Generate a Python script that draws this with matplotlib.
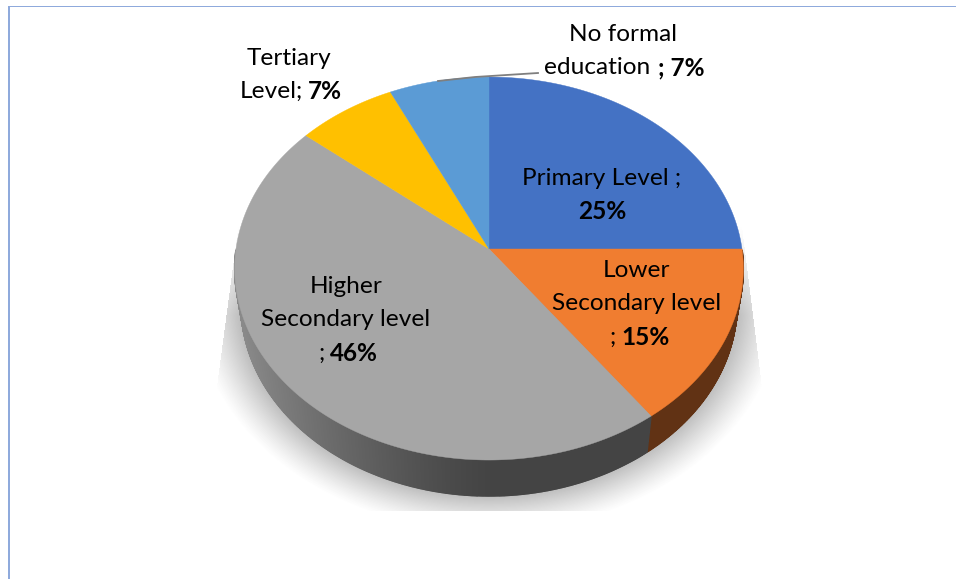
import matplotlib
matplotlib.use('Agg')
import matplotlib.pyplot as plt
from matplotlib.patches import Polygon, Rectangle
import numpy as np

# chart values, clockwise from 12 o'clock
categories = ['Primary Level', 'Lower\nSecondary level', 'Higher\nSecondary level', 'Tertiary\nLevel', 'No formal\neducation']
values = [25, 15, 46, 7, 7]
colours = ['#4472C4', '#F07D30', '#A6A6A6', '#FFC000', '#5B9BD5']
side_colours = ['#2A4578', '#613214', '#444444', '#997300', '#375F82']

plt.rcParams['font.family'] = ['Lato', 'DejaVu Sans']

W, H = 956, 579
fig = plt.figure(figsize=(W / 100, H / 100), dpi=100)
ax = fig.add_axes([0, 0, 1, 1])
ax.set_xlim(0, W)
ax.set_ylim(H, 0)
ax.axis('off')

# pie geometry (pixels), tilted disc with a little perspective
cx, cy = 489, 249
rx, ry = 253, 189.5
k = 0.102
depth = 36
low_scale = 0.975  # lower rim is a bit narrower than the top one


def rim(theta):
    u, v = np.sin(theta), np.cos(theta)
    return cx + rx * u / (1 + k * v), cy - ry * v / (1 + k * v)


def low(x):
    return cx + (x - cx) * low_scale


# soft shadow below the pie
yy, xx = np.mgrid[0:H, 0:W]
sx = (xx + 0.5 - cx) / 295.0
sy = (yy + 0.5 - 300) / 232.0
rr = np.sqrt(sx ** 2 + sy ** 2)
alpha = np.clip((1.0 - rr) / 0.2, 0, 1) ** 1.2 * 0.5
alpha = alpha * np.clip((yy - 225) / 90.0, 0, 1)
left_edge = 232 - (yy - 270) * 14 / 105.0
right_edge = 742 + (yy - 230) * 18 / 145.0
alpha[(xx < left_edge) | (xx > right_edge) | (yy > 510)] = 0
shadow = np.zeros((H, W, 4))
shadow[..., :3] = 0.3
shadow[..., 3] = alpha
ax.imshow(shadow, extent=[0, W, H, 0], aspect='auto', zorder=1, interpolation='bilinear')

fracs = np.array(values) / sum(values)
edges = np.concatenate([[0], np.cumsum(fracs)]) * 2 * np.pi

# side wall
for i in range(len(values)):
    th = np.linspace(edges[i], edges[i + 1], max(int(fracs[i] * 1440), 2))
    th = th[np.cos(th) < 0.0]
    for a, b in zip(th[:-1], th[1:]):
        x0, y0 = rim(a)
        x1, y1 = rim(b)
        col = side_colours[i]
        if i == 2:
            # grey slice gets lighter towards the left
            t = np.clip((490 - (x0 + x1) / 2) / 250.0, 0, 1)
            g = 0.267 + t ** 1.3 * 0.27
            col = (g, g, g)
        ax.add_patch(Polygon([(x0, y0), (x1, y1), (low(x1), y1 + depth), (low(x0), y0 + depth)],
                             closed=True, fc=col, ec=col, lw=1.0, zorder=2))

# top of the pie
for i in range(len(values)):
    th = np.linspace(edges[i], edges[i + 1], 200)
    x, y = rim(th)
    pts = np.column_stack([np.r_[cx, x], np.r_[cy, y]])
    ax.add_patch(Polygon(pts, closed=True, fc=colours[i], ec=colours[i], lw=0.3, zorder=3))

# page border
ax.add_patch(Rectangle((8, 6), W, 1.2, fc='#8FAADC', ec='none', zorder=5))
ax.add_patch(Rectangle((8, 6), 1.6, H, fc='#8FAADC', ec='none', zorder=5))

# leader line
ax.plot([438, 475, 538], [81, 77, 73], color='#7F7F7F', lw=1.3, zorder=4)

fs = 17.6
label_pos = [(602, 195), (637, 304), (346, 320), (289, 75), (623, 51)]
for i, name in enumerate(categories):
    lines = name.split('\n')
    px, py = label_pos[i]
    if i == 0:
        body = [name + ' ;', None]
    elif i == 1 or i == 2:
        body = lines + [None]
    elif i == 3:
        body = [lines[0], lines[1] + ';']
    else:
        body = [lines[0], lines[1]]
    n = len(body)
    for j, t in enumerate(body):
        yl = py + (j - (n - 1) / 2) * 33.5
        if t is None:
            s = str(values[i]) + '%'
            if i == 0:
                ax.text(px, yl, s, fontsize=fs, fontweight='bold', ha='center', va='center', zorder=6)
            else:
                ax.text(px - 21, yl, ';', fontsize=fs, ha='right', va='center', zorder=6)
                ax.text(px - 16, yl, s, fontsize=fs, fontweight='bold', ha='left', va='center', zorder=6)
        elif i == 3 and j == 1:
            ax.text(px + 14, yl, t, fontsize=fs, ha='right', va='center', zorder=6)
            ax.text(px + 19, yl, str(values[i]) + '%', fontsize=fs, fontweight='bold', ha='left', va='center', zorder=6)
        elif i == 4 and j == 1:
            ax.text(px + 27, yl, t, fontsize=fs, ha='right', va='center', zorder=6)
            ax.text(px + 35, yl, '; ' + str(values[i]) + '%', fontsize=fs, fontweight='bold', ha='left', va='center', zorder=6)
        else:
            ax.text(px, yl, t, fontsize=fs, ha='center', va='center', zorder=6)

fig.savefig('out.png', dpi=100)
